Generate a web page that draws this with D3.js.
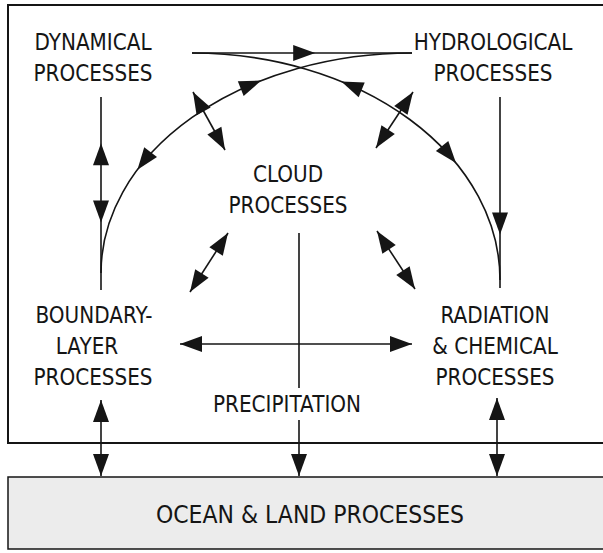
<!DOCTYPE html>
<meta charset="utf-8">
<title>Cloud processes and their interactions</title>

<style>
body { margin: 0; background: #fff; }
text { font-family: "DejaVu Sans", sans-serif; fill: #151515; }
</style>

<div id="diagram"></div>

<script src="https://d3js.org/d3.v7.min.js"></script>

<script>

// the process boxes and the lines of their labels, as printed
var processNames = ["dynamical", "hydrological", "cloud", "boundary", "radiation", "ocean"];
var processLines = [
  ["DYNAMICAL", "PROCESSES"],
  ["HYDROLOGICAL", "PROCESSES"],
  ["CLOUD", "PROCESSES"],
  ["BOUNDARY-", "LAYER", "PROCESSES"],
  ["RADIATION", "& CHEMICAL", "PROCESSES"],
  ["OCEAN & LAND PROCESSES"]
];
var fluxLabels = ["PRECIPITATION"];

// links between processes; "both" = two-way arrow
var linkSources = ["dynamical", "hydrological", "dynamical", "dynamical", "hydrological",
                   "cloud", "cloud", "cloud", "cloud", "boundary", "cloud", "boundary", "radiation"];
var linkTargets = ["hydrological", "boundary", "radiation", "boundary", "radiation",
                   "dynamical", "hydrological", "boundary", "radiation", "radiation", "ocean", "ocean", "ocean"];
var linkHeads   = ["one", "both", "both", "both", "one",
                   "both", "both", "both", "both", "both", "one", "both", "both"];

// ---------------- layout (pixels) ----------------
var width = 603, height = 553;
var lineGap = 31;
var labelPos = {
  dynamical:    [93, 50],
  hydrological: [493, 50],
  cloud:        [288, 182],
  boundary:     [93, 323],
  radiation:    [495, 323],
  ocean:        [310, 523]
};
var lineShift = {boundary: [1, -6, 0]};   // "LAYER" sits a little left
var fluxPos = [[287, 412]];

// geometry of each link, in the same order as the link arrays
// line: from, to, heads at fraction t (dir +1 towards target, -1 towards source)
// arc : quarter ellipse, angles in degrees
var routes = [
  {type: "line", a: [192, 53], b: [412, 53], heads: [[0.56, 1]]},
  {type: "arc", c: [412, 273], rx: 311, ry: 220, t0: 270, t1: 180, heads: [[241, -1], [208, 1]]},
  {type: "arc", c: [192, 280], rx: 308, ry: 227, t0: 270, t1: 360, heads: [[299, -1], [329, 1]]},
  {type: "line", a: [101, 97], b: [101, 290], heads: [[0.24, -1], [0.65, 1]]},
  {type: "line", a: [500, 97], b: [500, 288], heads: [[0.72, 1]]},
  {type: "line", a: [225, 150], b: [193, 92], heads: [[0, -1], [1, 1]]},
  {type: "line", a: [376, 148], b: [413, 92], heads: [[0, -1], [1, 1]]},
  {type: "line", a: [228, 233], b: [190, 292], heads: [[0, -1], [1, 1]]},
  {type: "line", a: [377, 231], b: [415, 289], heads: [[0, -1], [1, 1]]},
  {type: "line", a: [180, 344], b: [412, 344], heads: [[0, -1], [1, 1]]},
  {type: "line", a: [299, 233], b: [299, 476], heads: [[1, 1]], gap: [388, 420]},
  {type: "line", a: [101, 400], b: [101, 476], heads: [[0, -1], [1, 1]]},
  {type: "line", a: [497, 398], b: [497, 476], heads: [[0, -1], [1, 1]]}
];

var ink = "#151515";

var svg = d3.select("#diagram")
  .append("svg")
    .attr("width", width)
    .attr("height", height)
    .style("background", "#fff");

// upper frame (runs off the right edge) and the ocean/land band
svg.append("rect")
  .attr("x", 8).attr("y", 5)
  .attr("width", 640).attr("height", 438)
  .attr("fill", "none")
  .attr("stroke", ink)
  .attr("stroke-width", 2);

svg.append("rect")
  .attr("x", 8).attr("y", 477)
  .attr("width", 640).attr("height", 72)
  .attr("fill", "#ececec")
  .attr("stroke", ink)
  .attr("stroke-width", 1.5);

function deg(r) { return r * 180 / Math.PI; }

function head(x, y, ang) {
  svg.append("path")
    .attr("d", "M0,0L-22,-8L-22,8Z")
    .attr("transform", "translate(" + x + "," + y + ")rotate(" + deg(ang) + ")")
    .attr("fill", ink);
}

function ellipsePoint(r, t) {
  var a = t * Math.PI / 180;
  return [r.c[0] + r.rx * Math.cos(a), r.c[1] + r.ry * Math.sin(a)];
}

routes.forEach(function(r, i) {
  if (r.type == "line") {
    var segs = [[r.a, r.b]];
    if (r.gap) segs = [[r.a, [r.b[0], r.gap[0]]], [[r.a[0], r.gap[1]], r.b]];
    segs.forEach(function(s) {
      svg.append("path")
        .attr("d", d3.line()(s))
        .attr("stroke", ink)
        .attr("stroke-width", 1.6)
        .attr("fill", "none");
    });
    var dx = r.b[0] - r.a[0], dy = r.b[1] - r.a[1];
    r.heads.forEach(function(h) {
      var ang = Math.atan2(dy, dx) + (h[1] < 0 ? Math.PI : 0);
      head(r.a[0] + dx * h[0], r.a[1] + dy * h[0], ang);
    });
  } else {
    var p0 = ellipsePoint(r, r.t0), p1 = ellipsePoint(r, r.t1);
    var sweep = r.t1 > r.t0 ? 1 : 0;
    svg.append("path")
      .attr("d", "M" + p0 + "A" + r.rx + "," + r.ry + " 0 0 " + sweep + " " + p1)
      .attr("stroke", ink)
      .attr("stroke-width", 1.6)
      .attr("fill", "none");
    var s = r.t1 > r.t0 ? 1 : -1;
    r.heads.forEach(function(h) {
      var a = h[0] * Math.PI / 180, k = s * h[1];
      var p = ellipsePoint(r, h[0]);
      var ang = Math.atan2(k * r.ry * Math.cos(a), -k * r.rx * Math.sin(a));
      head(p[0], p[1], ang);
    });
  }
});

// process labels
processNames.forEach(function(name, i) {
  var p = labelPos[name];
  var shift = lineShift[name] || [];
  var big = name == "ocean";
  svg.append("g")
    .selectAll("text")
    .data(processLines[i])
    .enter()
    .append("text")
      .attr("transform", function(d, j) {
        return "translate(" + (p[0] + (shift[j] || 0)) + "," + (p[1] + j * lineGap) + ")scale(" + (big ? 0.88 : 0.87) + ",1)";
      })
      .attr("text-anchor", "middle")
      .style("font-size", big ? "25px" : "23px")
      .text(function(d) { return d; });
});

// flux label
svg.selectAll("fluxText")
  .data(fluxLabels)
  .enter()
  .append("text")
    .attr("transform", function(d, i) { return "translate(" + fluxPos[i][0] + "," + fluxPos[i][1] + ")scale(0.87,1)"; })
    .attr("text-anchor", "middle")
    .style("font-size", "23px")
    .text(function(d) { return d; });

</script>
